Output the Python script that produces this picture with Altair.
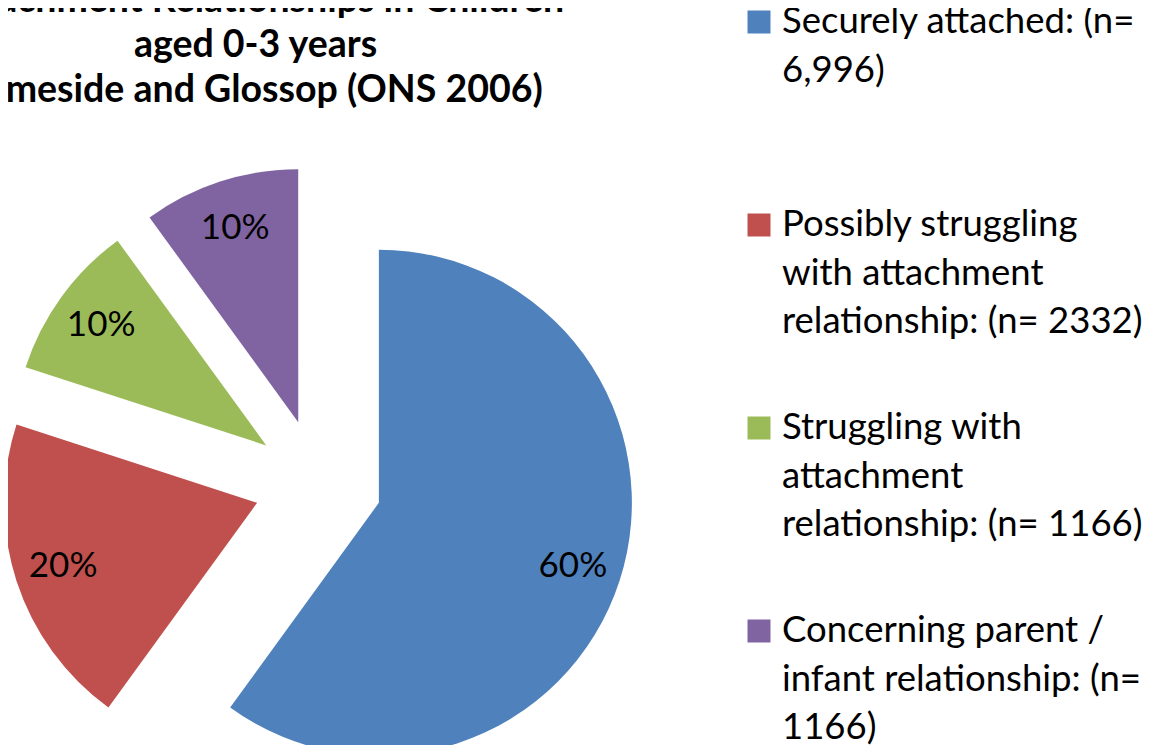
import altair as alt
import pandas as pd

# ---- data ----
categories = [
    "Securely attached",
    "Possibly struggling with attachment relationship",
    "Struggling with attachment relationship",
    "Concerning parent / infant relationship",
]
counts = [6996, 2332, 1166, 1166]
colors = ["#4F81BD", "#C0504D", "#9BBB59", "#8064A2"]
legend_labels = [
    "Securely attached: (n=\n6,996)",
    "Possibly struggling\nwith attachment\nrelationship: (n= 2332)",
    "Struggling with\nattachment\nrelationship: (n= 1166)",
    "Concerning parent /\ninfant relationship: (n=\n1166)",
]
title_lines = [
    "Attachment Relationships in Children",
    "aged 0-3 years",
    "Tameside and Glossop (ONS 2006)",
]

# ---- layout / style ----
W, H = 1139, 737
CX, CY = 310, 475
R = 253
EXPLODE = 64
LABEL_R = 204
FONT = "Lato"
FS_LABEL = 35
FS_LEG = 36.5
FS_TITLE = 37.5
LEG_X_SQ = 751
LEG_X_TXT = 774
LEG_Y0 = 25
LEG_STEP = 203
LEG_LH = 48.5

df = pd.DataFrame({"category": categories, "count": counts, "legend": legend_labels})

color = alt.Color(
    "category:N", scale=alt.Scale(domain=categories, range=colors), legend=None
)

base = (
    alt.Chart(df)
    .transform_window(cum="sum(count)", frame=[None, 0])
    .transform_joinaggregate(total="sum(count)")
    .transform_calculate(
        start="2*PI*(datum.cum - datum.count)/datum.total",
        end="2*PI*datum.cum/datum.total",
    )
    .transform_calculate(mid="(datum.start + datum.end)/2")
    .transform_calculate(
        cx=f"{CX} + {EXPLODE}*sin(datum.mid)",
        cy=f"{CY} - {EXPLODE}*cos(datum.mid)",
        pct="format(datum.count/datum.total, '.0%')",
    )
    .transform_calculate(
        lx=f"datum.cx + {LABEL_R}*sin(datum.mid)",
        ly=f"datum.cy - {LABEL_R}*cos(datum.mid)",
    )
)

arcs = base.mark_arc(outerRadius=R, innerRadius=0).encode(
    theta=alt.Theta("start:Q", scale=None, stack=None),
    theta2="end:Q",
    x=alt.X("cx:Q", scale=None, axis=None),
    y=alt.Y("cy:Q", scale=None, axis=None),
    color=color,
)

labels = base.mark_text(
    font=FONT, fontSize=FS_LABEL, color="black", align="center", baseline="middle"
).encode(
    x=alt.X("lx:Q", scale=None, axis=None),
    y=alt.Y("ly:Q", scale=None, axis=None),
    text="pct:N",
)

title = (
    alt.Chart(pd.DataFrame({"t": ["\n".join(title_lines)]}))
    .mark_text(
        font=FONT,
        fontSize=FS_TITLE,
        fontWeight="bold",
        color="black",
        align="center",
        baseline="alphabetic",
        lineBreak="\n",
        lineHeight=45,
    )
    .encode(x=alt.value(247.5), y=alt.value(4), text="t:N")
)

leg_base = alt.Chart(df).transform_window(rn="row_number()").transform_calculate(
    ty=f"{LEG_Y0} + (datum.rn - 1)*{LEG_STEP}",
    sy=f"{LEG_Y0 - 11} + (datum.rn - 1)*{LEG_STEP}",
)

leg_sq = leg_base.mark_square(size=529, opacity=1).encode(
    x=alt.value(LEG_X_SQ),
    y=alt.Y("sy:Q", scale=None, axis=None),
    color=color,
)

leg_txt = leg_base.mark_text(
    font=FONT,
    fontSize=FS_LEG,
    color="black",
    align="left",
    baseline="alphabetic",
    lineBreak="\n",
    lineHeight=LEG_LH,
).encode(
    x=alt.value(LEG_X_TXT),
    y=alt.Y("ty:Q", scale=None, axis=None),
    text="legend:N",
)

chart = (
    alt.layer(arcs, labels, title, leg_sq, leg_txt)
    .properties(width=W, height=H, padding=0, autosize="none")
    .configure_view(stroke=None)
)

chart.save("out.html", embed_options={"renderer": "svg", "actions": False})
